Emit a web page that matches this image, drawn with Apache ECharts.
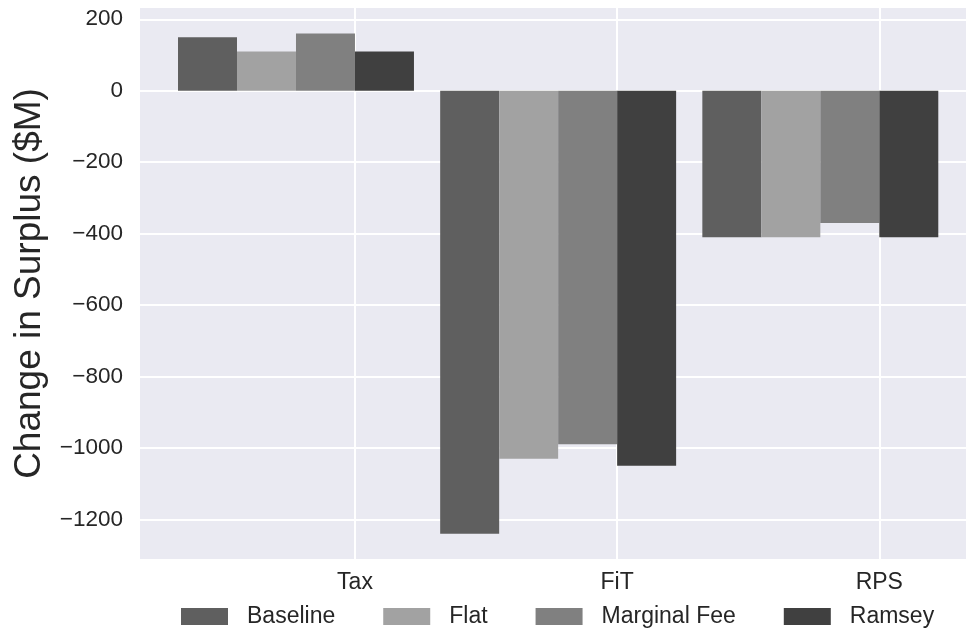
<!DOCTYPE html>
<html>
<head>
<meta charset="utf-8">
<script src="https://cdn.jsdelivr.net/npm/echarts@6/dist/echarts.min.js"></script>
<style>html,body{margin:0;padding:0;background:#fff;}#c{width:966px;height:629px;}</style>
</head>
<body>
<div id="c"></div>
<script>
const categories = ['Tax', 'FiT', 'RPS'];
const seriesNames = ['Baseline', 'Flat', 'Marginal Fee', 'Ramsey'];
const baseline = [150, -1240, -410];
const flat = [110, -1030, -410];
const marginalFee = [160, -990, -370];
const ramsey = [110, -1050, -410];
const yTicks = [-1200, -1000, -800, -600, -400, -200, 0, 200];
const yMin = -1311;
const yMax = 231.6;

const colors = ['#5f5f5f', '#a2a2a2', '#808080', '#404040'];
const values = [baseline, flat, marginalFee, ramsey];
const FONT = 'Liberation Sans, Arial, sans-serif';
const TXT = '#262626';

const chart = echarts.init(document.getElementById('c'), null, {renderer: 'canvas'});
const option = {
  animation: false,
  textStyle: {fontFamily: FONT},
  grid: [
    {left: 140, right: 0, top: 8, bottom: 70, show: true, backgroundColor: '#EAEAF2', borderWidth: 0, containLabel: false},
    {left: 164.9, right: 14.6, top: 8, bottom: 70, containLabel: false},
    {left: 355, right: 86.7, top: 8, bottom: 70, containLabel: false}
  ],
  xAxis: [
    {gridIndex: 0, type: 'value', show: false, min: 0, max: 1},
    {gridIndex: 1, type: 'category', data: categories, show: false},
    {gridIndex: 2, type: 'category', data: categories, boundaryGap: false,
      axisLine: {show: false}, axisTick: {show: false},
      axisLabel: {fontSize: 23, color: TXT, margin: 12, fontFamily: FONT},
      splitLine: {show: true, lineStyle: {color: '#ffffff', width: 2}}}
  ],
  yAxis: [
    {gridIndex: 0, type: 'value', min: yMin, max: yMax, splitNumber: 7,
      name: 'Change in Surplus ($M)', nameLocation: 'middle', nameGap: 92,
      nameTextStyle: {fontSize: 37, color: TXT, fontFamily: FONT},
      axisLine: {show: false}, axisTick: {show: false},
      axisLabel: {fontSize: 22.5, color: TXT, margin: 17, fontFamily: FONT,
        showMinLabel: false, showMaxLabel: false,
        formatter: v => yTicks.includes(v) ? String(v).replace('-', '\u2212') : ''},
      splitLine: {show: true, showMinLine: false, showMaxLine: false, lineStyle: {color: '#ffffff', width: 2}}},
    {gridIndex: 1, type: 'value', min: yMin, max: yMax, show: false, splitLine: {show: false}},
    {gridIndex: 2, type: 'value', min: yMin, max: yMax, show: false, splitLine: {show: false}}
  ],
  legend: {
    data: seriesNames,
    left: 176, top: 600,
    itemWidth: 47, itemHeight: 17, itemGap: 48,
    icon: 'rect',
    textStyle: {fontSize: 23, color: TXT, fontFamily: FONT, padding: [0, 0, 0, 14], lineHeight: 23}
  },
  series: seriesNames.map((name, i) => ({
    name: name,
    type: 'bar',
    xAxisIndex: 1,
    yAxisIndex: 1,
    data: values[i],
    barGap: 0,
    barCategoryGap: '10%',
    itemStyle: {color: colors[i]},
    emphasis: {disabled: true},
    z: 5
  }))
};
chart.setOption(option);
</script>
</body>
</html>
